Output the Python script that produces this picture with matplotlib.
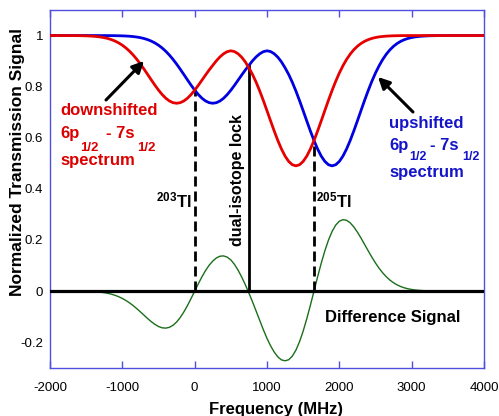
import matplotlib
matplotlib.use("Agg")
import matplotlib.pyplot as plt

plt.rcParams['font.family'] = ['Liberation Sans', 'DejaVu Sans']
plt.rcParams['mathtext.fontset'] = 'custom'
plt.rcParams['mathtext.rm'] = 'Liberation Sans:bold'
plt.rcParams['mathtext.bf'] = 'Liberation Sans:bold'
plt.rcParams['mathtext.it'] = 'Liberation Sans:bold'
plt.rcParams['axes.unicode_minus'] = False

# ---------------- data ----------------
freq_mhz = [-2000, -1950, -1900, -1850, -1800, -1750, -1700, -1650, -1600, -1550,
            -1500, -1450, -1400, -1350, -1300, -1250, -1200, -1150, -1100, -1050,
            -1000, -950, -900, -850, -800, -750, -700, -650, -600, -550,
            -500, -450, -400, -350, -300, -250, -200, -150, -100, -50,
            0, 50, 100, 150, 200, 250, 300, 350, 400, 450,
            500, 550, 600, 650, 700, 750, 800, 850, 900, 950,
            1000, 1050, 1100, 1150, 1200, 1250, 1300, 1350, 1400, 1450,
            1500, 1550, 1600, 1650, 1700, 1750, 1800, 1850, 1900, 1950,
            2000, 2050, 2100, 2150, 2200, 2250, 2300, 2350, 2400, 2450,
            2500, 2550, 2600, 2650, 2700, 2750, 2800, 2850, 2900, 2950,
            3000, 3050, 3100, 3150, 3200, 3250, 3300, 3350, 3400, 3450,
            3500, 3550, 3600, 3650, 3700, 3750, 3800, 3850, 3900, 3950,
            4000]

downshifted = [1.0000, 1.0000, 1.0000, 1.0000, 0.9999, 0.9999, 0.9998, 0.9997, 0.9995, 0.9992,
               0.9988, 0.9982, 0.9973, 0.9960, 0.9942, 0.9917, 0.9884, 0.9840, 0.9783, 0.9711,
               0.9622, 0.9514, 0.9386, 0.9238, 0.9070, 0.8885, 0.8686, 0.8477, 0.8266, 0.8060,
               0.7866, 0.7693, 0.7549, 0.7440, 0.7373, 0.7350, 0.7372, 0.7439, 0.7546, 0.7689,
               0.7860, 0.8050, 0.8252, 0.8454, 0.8651, 0.8833, 0.9013, 0.9166, 0.9287, 0.9370,
               0.9403, 0.9373, 0.9287, 0.9152, 0.8969, 0.8736, 0.8476, 0.8171, 0.7827, 0.7452,
               0.7057, 0.6656, 0.6261, 0.5890, 0.5558, 0.5281, 0.5073, 0.4944, 0.4900, 0.4944,
               0.5074, 0.5282, 0.5560, 0.5893, 0.6266, 0.6663, 0.7069, 0.7470, 0.7854, 0.8211,
               0.8534, 0.8819, 0.9065, 0.9273, 0.9444, 0.9582, 0.9691, 0.9776, 0.9840, 0.9888,
               0.9923, 0.9948, 0.9965, 0.9977, 0.9985, 0.9991, 0.9994, 0.9997, 0.9998, 0.9999,
               1.0000, 1.0000, 1.0000, 1.0000, 1.0000, 1.0000, 1.0000, 1.0000, 1.0000, 1.0000,
               1.0000, 1.0000, 1.0000, 1.0000, 1.0000, 1.0000, 1.0000, 1.0000, 1.0000, 1.0000,
               1.0000]

upshifted = [1.0000, 1.0000, 1.0000, 1.0000, 1.0000, 1.0000, 1.0000, 1.0000, 1.0000, 1.0000,
             1.0000, 1.0000, 1.0000, 1.0000, 0.9999, 0.9999, 0.9998, 0.9997, 0.9995, 0.9992,
             0.9988, 0.9982, 0.9973, 0.9960, 0.9942, 0.9917, 0.9884, 0.9840, 0.9783, 0.9711,
             0.9622, 0.9514, 0.9386, 0.9238, 0.9070, 0.8885, 0.8686, 0.8477, 0.8266, 0.8060,
             0.7866, 0.7693, 0.7549, 0.7440, 0.7373, 0.7350, 0.7372, 0.7439, 0.7546, 0.7689,
             0.7860, 0.8050, 0.8252, 0.8454, 0.8651, 0.8833, 0.9013, 0.9166, 0.9287, 0.9370,
             0.9403, 0.9373, 0.9287, 0.9152, 0.8969, 0.8736, 0.8476, 0.8171, 0.7827, 0.7452,
             0.7057, 0.6656, 0.6261, 0.5890, 0.5558, 0.5281, 0.5073, 0.4944, 0.4900, 0.4944,
             0.5074, 0.5282, 0.5560, 0.5893, 0.6266, 0.6663, 0.7069, 0.7470, 0.7854, 0.8211,
             0.8534, 0.8819, 0.9065, 0.9273, 0.9444, 0.9582, 0.9691, 0.9776, 0.9840, 0.9888,
             0.9923, 0.9948, 0.9965, 0.9977, 0.9985, 0.9991, 0.9994, 0.9997, 0.9998, 0.9999,
             1.0000, 1.0000, 1.0000, 1.0000, 1.0000, 1.0000, 1.0000, 1.0000, 1.0000, 1.0000,
             1.0000]

difference = [0.0, 0.0, 0.0, 0.0, -0.0001, -0.0001, -0.0002, -0.0002, -0.0004, -0.0006,
              -0.0009, -0.0014, -0.0021, -0.0032, -0.0045, -0.0065, -0.0090, -0.0124, -0.0167, -0.0222,
              -0.0289, -0.0370, -0.0464, -0.0570, -0.0689, -0.0815, -0.0946, -0.1077, -0.1198, -0.1304,
              -0.1387, -0.1439, -0.1451, -0.1420, -0.1341, -0.1213, -0.1038, -0.0820, -0.0569, -0.0293,
              -0.0005, 0.0282, 0.0555, 0.0801, 0.1010, 0.1172, 0.1296, 0.1364, 0.1375, 0.1328,
              0.1219, 0.1045, 0.0818, 0.0551, 0.0251, -0.0077, -0.0424, -0.0786, -0.1153, -0.1515,
              -0.1853, -0.2146, -0.2391, -0.2577, -0.2695, -0.2729, -0.2688, -0.2549, -0.2312, -0.1981,
              -0.1567, -0.1085, -0.0554, 0.0002, 0.0559, 0.1092, 0.1577, 0.1996, 0.2334, 0.2581,
              0.2733, 0.2794, 0.2769, 0.2670, 0.2511, 0.2306, 0.2071, 0.1822, 0.1569, 0.1325,
              0.1097, 0.0892, 0.0711, 0.0556, 0.0427, 0.0323, 0.0239, 0.0175, 0.0125, 0.0088,
              0.0061, 0.0041, 0.0028, 0.0018, 0.0012, 0.0007, 0.0005, 0.0002, 0.0002, 0.0001,
              0.0, 0.0, 0.0, 0.0, 0.0, 0.0, 0.0, 0.0, 0.0, 0.0,
              0.0]

# marker lines: (frequency, top value)
tl203_freq, tl203_top = 0, 0.785
lock_freq, lock_top = 745, 0.885
tl205_freq, tl205_top = 1650, 0.58

x_ticks = [-2000, -1000, 0, 1000, 2000, 3000, 4000]
x_tick_labels = ['-2000', '-1000', '0', '1000', '2000', '3000', '4000']
y_ticks = [-0.2, 0, 0.2, 0.4, 0.6, 0.8, 1]
y_tick_labels = ['-0.2', '0', '0.2', '0.4', '0.6', '0.8', '1']

# ---------------- figure ----------------
W, H = 499, 416
fig = plt.figure(figsize=(W / 100, H / 100), dpi=100)
L, R, T, B = 50, 484, 10, 367.7
ax = fig.add_axes([L / W, 1 - B / H, (R - L) / W, (B - T) / H])

RED = '#e60000'
BLUE = '#0000e0'
GREEN = '#1a6e1a'
SPINE = '#5050e0'

ax.plot(freq_mhz, difference, color=GREEN, lw=1.0, zorder=2)
ax.axhline(0, color='black', lw=2.3, zorder=3)
ax.plot([tl203_freq, tl203_freq], [0, tl203_top], color='black', lw=2.0,
        ls='--', dashes=(3.6, 1.8), zorder=3)
ax.plot([tl205_freq, tl205_freq], [0, tl205_top], color='black', lw=2.0,
        ls='--', dashes=(3.6, 1.8), zorder=3)
ax.plot([lock_freq, lock_freq], [0, lock_top], color='black', lw=2.0, zorder=3)
ax.plot(freq_mhz, upshifted, color=BLUE, lw=2.0, zorder=4)
ax.plot(freq_mhz, downshifted, color=RED, lw=2.0, zorder=5)

ax.set_xlim(-2000, 4000)
ax.set_ylim(-0.3, 1.1)
ax.set_xticks(x_ticks)
ax.set_xticklabels(x_tick_labels)
ax.set_yticks(y_ticks)
ax.set_yticklabels(y_tick_labels)
ax.tick_params(axis='x', direction='in', length=5, width=1, color=SPINE,
               top=True, pad=10, labelsize=9.5, labelcolor='black')
ax.tick_params(axis='y', length=0, pad=5, labelsize=9.5, labelcolor='black')
for s in ax.spines.values():
    s.set_color(SPINE)
    s.set_linewidth(1.0)

# axis titles
fig.text(18 / W, 1 - 161.5 / H, 'Normalized Transmission Signal', rotation=90,
         ha='center', va='center', fontsize=12.5, fontweight='bold')
fig.text(276 / W, 1 - 414 / H, 'Frequency (MHz)', ha='center', va='baseline',
         fontsize=12, fontweight='bold')


def px2data(px, py):
    return (-2000 + (px - L) * 6000 / (R - L), 1.1 - (py - T) * 1.4 / (B - T))


def block(anchor_px, pieces, color):
    x0, y0 = px2data(*anchor_px)
    for s, dx, dy, size in pieces:
        ax.annotate(s, xy=(x0, y0), xytext=(dx, dy), textcoords='offset pixels',
                    ha='left', va='baseline', fontsize=size, fontweight='bold',
                    color=color, zorder=6)


block((60, 115), [('downshifted', 0, 0, 12),
                  ('6p', 0, -23, 12), ('1/2', 20, -36, 9.5),
                  ('- 7s', 46, -23, 12), ('1/2', 77, -36, 9.5),
                  ('spectrum', 0, -50, 12)], '#dd0000')
block((389.3, 128), [('upshifted', 0, 0, 12),
                     ('6p', 0, -22, 12), ('1/2', 20, -32, 9),
                     ('- 7s', 41, -22, 12), ('1/2', 73, -32, 9),
                     ('spectrum', 0, -49, 12)], '#1414c8')

# arrows
ax.annotate('', xy=px2data(144, 61), xytext=px2data(106, 100),
            arrowprops=dict(arrowstyle='-|>', color='black', lw=2.2,
                            mutation_scale=17, shrinkA=0, shrinkB=0), zorder=6)
ax.annotate('', xy=px2data(378, 77), xytext=px2data(413, 112),
            arrowprops=dict(arrowstyle='-|>', color='black', lw=2.2,
                            mutation_scale=17, shrinkA=0, shrinkB=0), zorder=6)

# labels
x, y = px2data(238, 180)
ax.text(x, y, 'dual-isotope lock', rotation=90, ha='center', va='center',
        fontsize=11.5, fontweight='bold', zorder=6)
x, y = px2data(192, 207)
ax.text(x, y, r'$^{203}$Tl', ha='right', va='baseline', fontsize=12,
        fontweight='bold', zorder=6)
x, y = px2data(316, 207)
ax.text(x, y, r'$^{205}$Tl', ha='left', va='baseline', fontsize=12,
        fontweight='bold', zorder=6)
x, y = px2data(325, 322)
ax.text(x, y, 'Difference Signal', ha='left', va='baseline', fontsize=12,
        fontweight='bold', zorder=6)

fig.savefig('out.png', dpi=100)
